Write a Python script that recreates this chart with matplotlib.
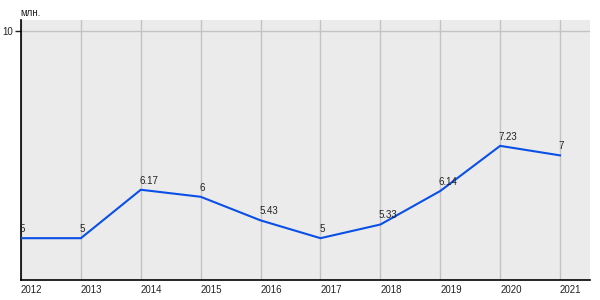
import matplotlib

matplotlib.use("Agg")
import matplotlib.pyplot as plt

YEARS = [2012, 2013, 2014, 2015, 2016, 2017, 2018, 2019, 2020, 2021]
VALUES = [5, 5, 6.17, 6, 5.43, 5, 5.33, 6.14, 7.23, 7]
LABELS = ["5", "5", "6.17", "6", "5.43", "5", "5.33", "6.14", "7.23", "7"]

LINE = "#0a4fe6"
BG = "#ebebeb"
GRID = "#c3c3c3"
TXT = "#222222"

plt.rcParams.update({"font.family": ["Liberation Sans", "DejaVu Sans"]})

fig = plt.figure(figsize=(6, 3), dpi=100, facecolor="white")
ax = fig.add_axes([21 / 600, 20 / 300, 569 / 600, 260 / 300])
ax.set_facecolor(BG)

ax.plot(YEARS, VALUES, color=LINE, lw=1.5, solid_joinstyle="miter", zorder=3)
for x, y, s in zip(YEARS, VALUES, LABELS):
    ax.annotate(s, (x, y), xytext=(-1, 3), textcoords="offset points",
                ha="left", va="bottom", fontsize=7, color=TXT, zorder=4)

ax.set_xlim(2012, 2021.5)
ax.set_ylim(3.99, 10.27)
ax.set_xticks(YEARS)
ax.set_xticklabels([str(y) for y in YEARS], ha="left")
ax.set_yticks([10])
ax.set_yticklabels(["10"])
ax.tick_params(axis="x", length=0, pad=3.5, labelsize=7, colors=TXT)
ax.tick_params(axis="y", length=4, width=1, pad=2, labelsize=7, colors=TXT)

ax.grid(True, color=GRID, lw=1, zorder=1)
ax.set_axisbelow(True)
for side in ("top", "right"):
    ax.spines[side].set_visible(False)
for side in ("left", "bottom"):
    ax.spines[side].set_color("black")
    ax.spines[side].set_linewidth(1.2)

fig.text(20 / 600, 1 - 13 / 300, "млн.", fontsize=7, color=TXT, ha="left", va="center")

fig.savefig("out.png", dpi=100, facecolor="white")
